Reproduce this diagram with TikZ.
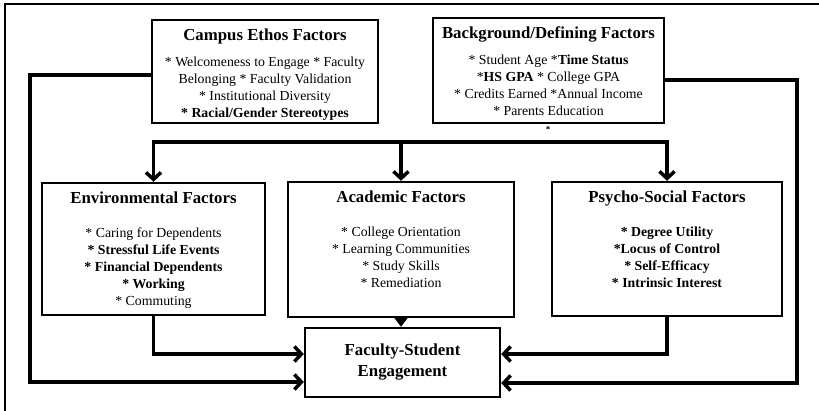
\documentclass[tikz,border=0pt]{standalone}
\usepackage{fontspec}
\setmainfont{Liberation Serif}
\usetikzlibrary{arrows.meta}
\newcommand\fttl{\fontsize{16.8}{20}\selectfont\bfseries}
\newcommand\fitm{\fontsize{13.8}{17}\selectfont\mdseries}
% width, height, title, gap below title, items
\newcommand\factortext[5]{\parbox[c][#2][t]{#1}{\centering\fttl\rule{0pt}{20.5pt}#3\par\vspace{#4}\fitm #5\par}}
\begin{document}
\begin{tikzpicture}[x=1pt,y=-1pt,
    factor/.style={draw,line width=2.4pt,inner sep=0pt},
    link/.style={line width=3.5pt},
    >={Straight Barb[length=7pt,width=15pt]}]
    \useasboundingbox (0,0) rectangle (819,411);
    \draw[line width=1.5pt] (5,430) -- (5,4) -- (830,4);
    % boxes
    \node[factor] (camp) at (265,71.5) {\factortext{226pt}{103pt}{Campus Ethos Factors}{9.5pt}{%
        * Welcomeness to Engage * Faculty\\{}Belonging * Faculty Validation\\{}%
        * Institutional Diversity\\{}\textbf{* Racial/Gender Stereotypes}}};
    \node[factor] (back) at (548.5,70.5) {\factortext{231pt}{105pt}{Background/Defining Factors}{9.5pt}{%
        * Student Age *\textbf{Time Status}\\{}*\textbf{HS GPA} * College GPA\\{}%
        * Credits Earned *Annual Income\\{}* Parents Education}};
    \node[font=\fontsize{9}{9}\selectfont\bfseries,inner sep=0pt] (dot) at (548,130) {*};
    \node[factor] (env) at (153.5,249) {\factortext{223pt}{132pt}{Environmental Factors}{17.5pt}{%
        * Caring for Dependents\\{}\textbf{* Stressful Life Events}\\{}\textbf{* Financial Dependents}\\{}%
        \textbf{* Working}\\{}* Commuting}};
    \node[factor] (acad) at (401,249.5) {\factortext{226pt}{135pt}{Academic Factors}{17.5pt}{%
        * College Orientation\\{}* Learning Communities\\{}* Study Skills\\{}* Remediation}};
    \node[factor] (psy) at (667,249) {\factortext{230pt}{134pt}{Psycho-Social Factors}{17.5pt}{%
        \bfseries * Degree Utility\\{}*Locus of Control\\{}* Self-Efficacy\\{}* Intrinsic Interest}};
    \node[factor,minimum width=195pt,minimum height=69pt,align=center,
        font=\fontsize{16.8}{21}\selectfont\bfseries] (fse) at (402.5,362.5) {Faculty-Student\\ Engagement};
    % connectors
    \draw[link,<->] (env.north) -- ++(0,-40) -| (psy.north);
    \draw[link,->] (acad.north) ++(0,-40) -- (acad.north);
    \draw[link,-{Triangle[length=9pt,width=13pt]}] (acad.south) -- (acad.south |- fse.north);
    \foreach \n/\s in {env/west,psy/east}
        \draw[link,->] (\n.south) |- ([yshift=8.5pt]fse.\s);
    \draw[link,->] ([yshift=-3.5pt]camp.west) -| (30,382) -- ([yshift=-19.5pt]fse.west);
    \draw[link,->] ([yshift=-9.5pt]back.east) -| (797,383) -- ([yshift=-20.5pt]fse.east);
\end{tikzpicture}
\end{document}
